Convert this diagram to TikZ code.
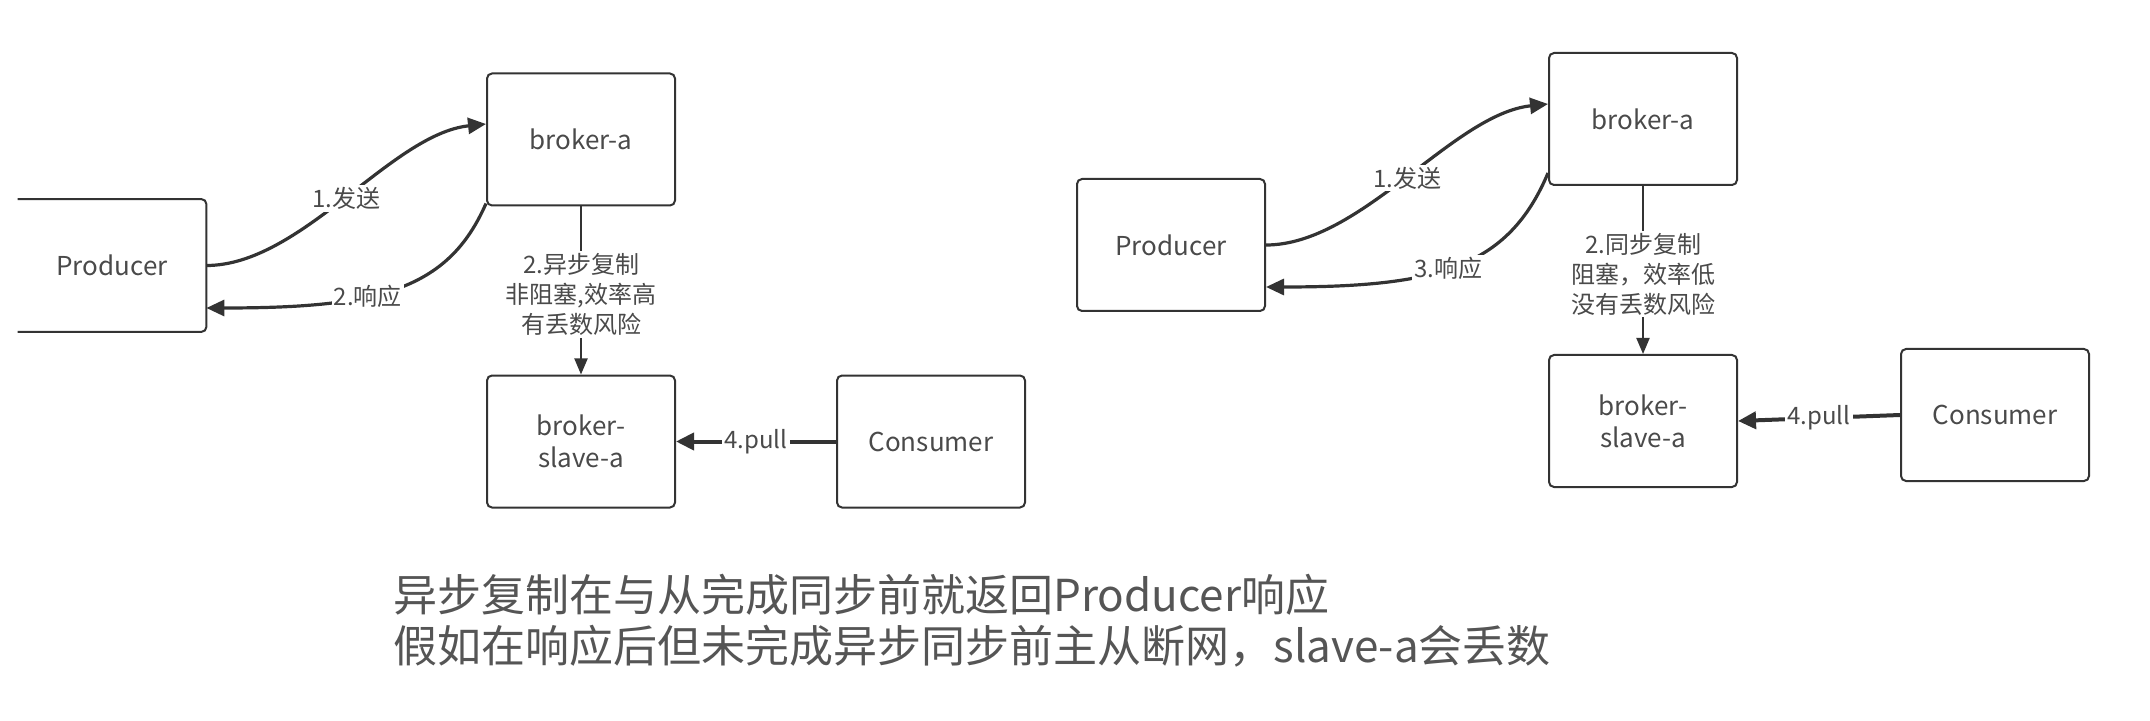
\documentclass[tikz,border=0pt]{standalone}
\usepackage{fontspec}
\setmainfont{Noto Sans CJK SC}
\usetikzlibrary{arrows.meta}
\definecolor{linec}{HTML}{333333}
\definecolor{txtc}{HTML}{4A4A4A}
\definecolor{bigtxt}{HTML}{555555}
\tikzset{
  x=0.5pt, y=-0.5pt,
  boxline/.style={draw=linec, line width=1pt, rounded corners=2.5pt},
  box/.style={boxline, minimum width=94pt, minimum height=66pt, inner sep=0pt,
    font=\fontsize{13}{16}\selectfont, text=txtc, align=center},
  openbox/.style={draw=none, minimum width=94pt, minimum height=66pt, inner sep=0pt,
    font=\fontsize{13}{16}\selectfont, text=txtc, align=center},
  lab/.style={fill=white, inner sep=1pt, font=\fontsize{12}{15}\selectfont, text=txtc, align=center},
  carrow/.style={draw=linec, line width=1.6pt, -{Triangle[length=9pt,width=8pt]}},
  varrow/.style={draw=linec, line width=1pt, -{Triangle[length=8pt,width=6.5pt]}},
  parrow/.style={draw=linec, line width=2pt, -{Triangle[length=9pt,width=8.5pt]}},
}
\begin{document}
\begin{tikzpicture}
\useasboundingbox (0,0) rectangle (2150,721);
% ---------- left diagram ----------
\node[openbox] (prodL) at (112,265.5) {Producer};
\draw[boxline] (prodL.north west) -- (prodL.north east) -- (prodL.south east) -- (prodL.south west);
\node[box] (brokL) at (581,139.5) {broker-a};
\node[box] (slaveL) at (581,441.5) {broker-\\slave-a};
\node[box] (consL) at (931,441.5) {Consumer};

\draw[carrow] (prodL.east) .. controls +(95,0) and +(-95,10) .. ([yshift=7.75pt]brokL.west)
  node[lab, pos=0.5] {1.发送};
\draw[carrow] ([yshift=1.5pt]brokL.south west) .. controls +(-38,87) and +(171,0) .. ([yshift=-21.25pt]prodL.east)
  node[lab, pos=0.6] {2.响应};
\draw[varrow] (brokL.south) -- (slaveL.north)
  node[lab, midway, yshift=-2pt] {2.异步复制\\非阻塞,效率高\\有丢数风险};
\draw[parrow] (consL.west) -- (slaveL.east) node[lab, midway] {4.pull};

% ---------- right diagram ----------
\node[box] (prodR) at (1171,245) {Producer};
\node[box] (brokR) at (1643,119) {broker-a};
\node[box] (slaveR) at (1643,421) {broker-\\slave-a};
\node[box] (consR) at (1995,415) {Consumer};

\draw[carrow] (prodR.east) .. controls +(95,0) and +(-95,10) .. ([yshift=7.5pt]brokR.west)
  node[lab, pos=0.5] {1.发送};
\draw[carrow] ([yshift=6.5pt]brokR.south west) .. controls +(-40,95) and +(171,0) .. ([yshift=-21pt]prodR.east)
  node[lab, pos=0.53] {3.响应};
\draw[varrow] (brokR.south) -- (slaveR.north)
  node[lab, midway, yshift=-2pt] {2.同步复制\\阻塞，效率低\\没有丢数风险};
\draw[parrow] (consR.west) -- (slaveR.east) node[lab, midway] {4.pull};

% ---------- bottom text ----------
\node[anchor=west, inner sep=0pt, align=left, text=bigtxt,
  font=\fontsize{22}{25.5}\selectfont] (note) at (393,621)
  {异步复制在与从完成同步前就返回Producer响应\\假如在响应后但未完成异步同步前主从断网，slave-a会丢数};
\end{tikzpicture}
\end{document}
